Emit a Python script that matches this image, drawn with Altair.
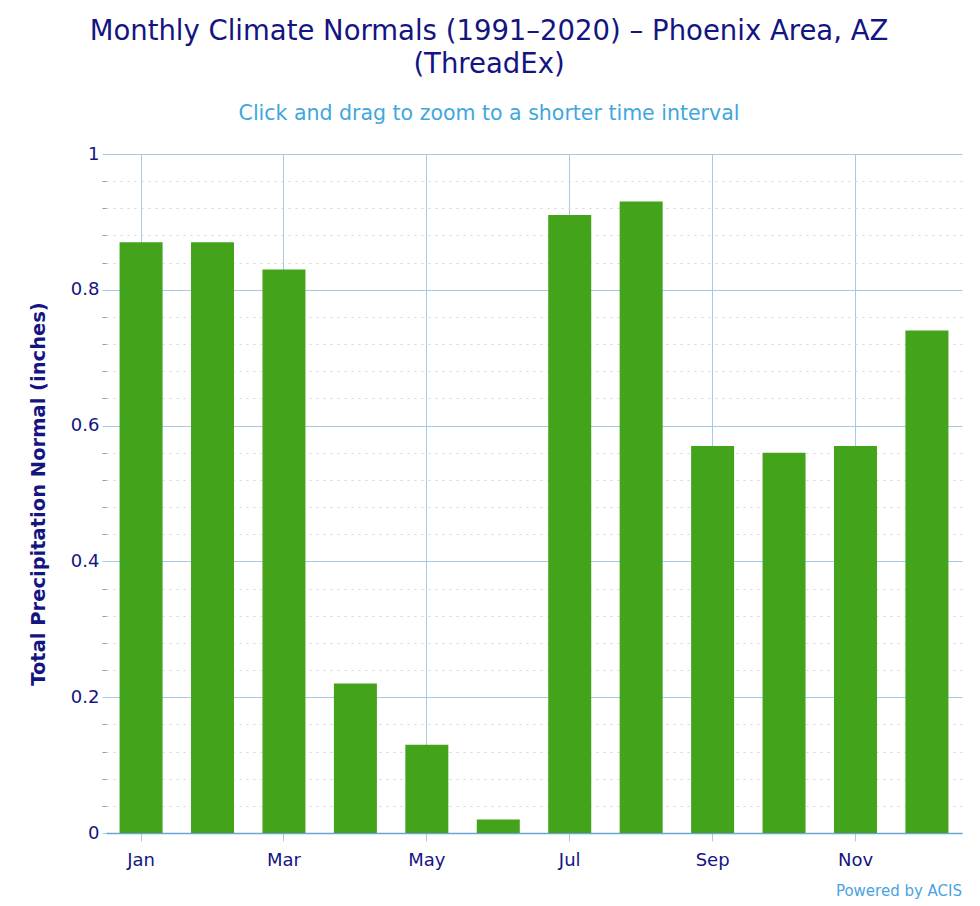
import altair as alt
import pandas as pd

months = ["Jan", "Feb", "Mar", "Apr", "May", "Jun", "Jul", "Aug", "Sep", "Oct", "Nov", "Dec"]
precip = [0.87, 0.87, 0.83, 0.22, 0.13, 0.02, 0.91, 0.93, 0.57, 0.56, 0.57, 0.74]
x_tick_months = ["Jan", "Mar", "May", "Jul", "Sep", "Nov"]
y_tick_values = [round(i * 0.04, 2) for i in range(26)]

title_lines = ["Monthly Climate Normals (1991\u20132020) \u2013 Phoenix Area, AZ", "(ThreadEx)"]
subtitle_text = "Click and drag to zoom to a shorter time interval"
credit = ["Powered by ACIS"]

df = pd.DataFrame({"month": months, "precip": precip})

NAVY = "#141482"
GRID = "#a6c9e6"
AXISLINE = "#6aa5d6"
BAR = "#43a31a"
FONT = "DejaVu Sans"

is_major = "abs(round(datum.value*5) - datum.value*5) < 0.001"

bars = alt.Chart(df).mark_bar(color=BAR).encode(
    x=alt.X(
        "month:N",
        sort=months,
        scale=alt.Scale(paddingInner=0.398, paddingOuter=0.19),
        axis=alt.Axis(
            title=None,
            values=x_tick_months,
            labelAngle=0,
            bandPosition=0.5,
            grid=True,
            gridColor=GRID,
            gridWidth=1,
            tickColor=GRID,
            tickSize=8,
            domainColor=AXISLINE,
            domainWidth=1.5,
            labelColor=NAVY,
            labelFont=FONT,
            labelFontSize=18,
            labelPadding=10,
        ),
    ),
    y=alt.Y(
        "precip:Q",
        scale=alt.Scale(domain=[0, 1], nice=False, zero=True),
        axis=alt.Axis(
            title="Total Precipitation Normal (inches)",
            titleFont=FONT,
            titleFontSize=19.5,
            titleFontWeight="bold",
            titleColor=NAVY,
            titlePadding=22,
            values=y_tick_values,
            labelExpr=f"({is_major}) ? format(datum.value, '~g') : ''",
            labelColor=NAVY,
            labelFont=FONT,
            labelFontSize=18,
            labelPadding=3,
            domain=False,
            tickSize=4,
            tickColor={"condition": {"test": is_major, "value": GRID}, "value": "#9a9a9a"},
            grid=True,
            gridColor={"condition": {"test": is_major, "value": GRID}, "value": "#d4d4d4"},
            gridDash={"condition": {"test": is_major, "value": []}, "value": [2, 5]},
            gridWidth=1,
        ),
    ),
)

credit_text = alt.Chart(pd.DataFrame({"t": credit})).mark_text(
    align="right", baseline="middle", font=FONT, fontSize=15, color="#4aa3df"
).encode(text="t:N", x=alt.value(856), y=alt.value(737))

chart = alt.layer(bars, credit_text).properties(
    width=856,
    height=679,
    autosize=alt.AutoSizeParams(type="none"),
    padding={"left": 98, "top": 146, "right": 10, "bottom": 72},
    title=alt.TitleParams(
        text=title_lines,
        subtitle=subtitle_text,
        anchor="middle",
        frame="group",
        dx=-45,
        font=FONT,
        fontSize=27.5,
        fontWeight="normal",
        color=NAVY,
        lineHeight=33,
        subtitleFont=FONT,
        subtitleFontSize=20.5,
        subtitleColor="#3fa7dd",
        subtitlePadding=25,
        offset=21,
    ),
).configure_view(stroke=None)

chart.save("out.html", embed_options={"renderer": "svg", "actions": False})
